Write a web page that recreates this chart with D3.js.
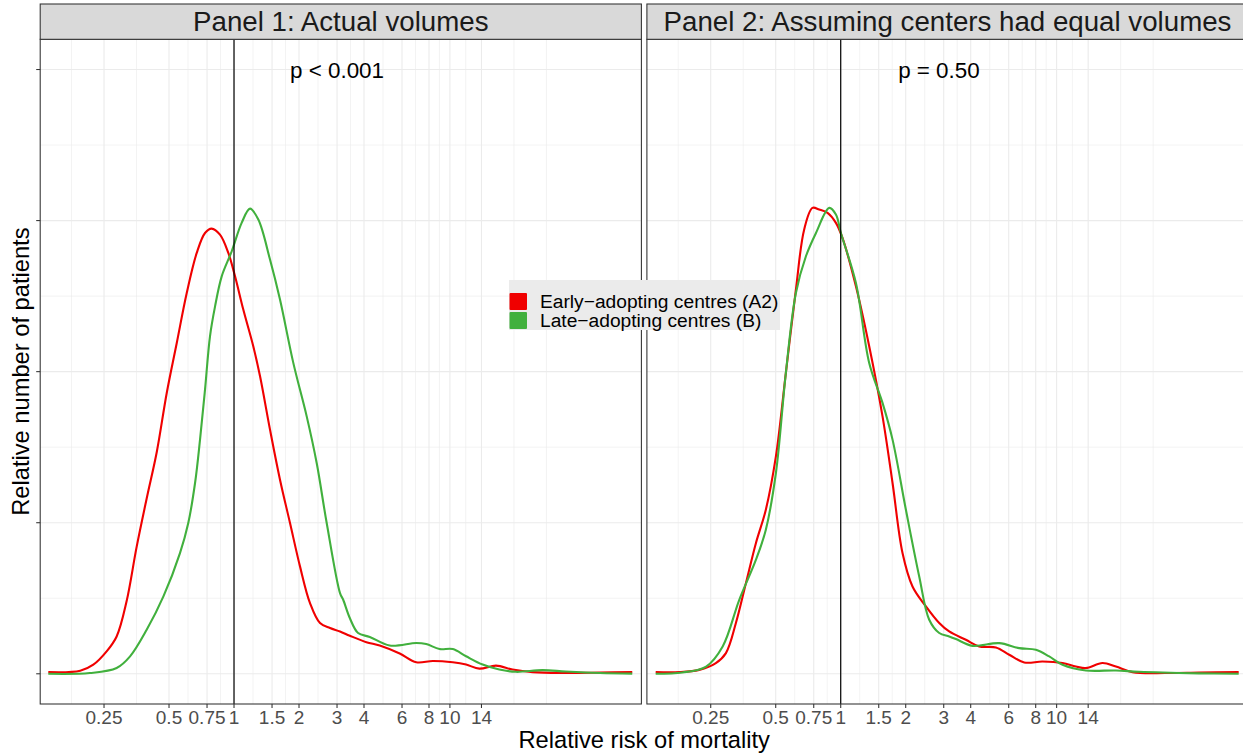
<!DOCTYPE html>
<html>
<head>
<meta charset="utf-8">
<script src="https://cdn.jsdelivr.net/npm/d3@7"></script>
<style>
  html, body { margin: 0; padding: 0; background: #fff; }
  svg { display: block; font-family: "Liberation Sans", Arial, Helvetica, sans-serif; }
</style>
</head>
<body>
<svg id="chart" width="1243" height="754"></svg>
<script>
// ---------------- DATA ----------------
const panelTitles = ["Panel 1: Actual volumes", "Panel 2: Assuming centers had equal volumes"];
const seriesNames = ["Early\u2212adopting centres (A2)", "Late\u2212adopting centres (B)"];
const seriesColors = ["#F00000", "#41B03D"];

const xBreaks = [0.25, 0.5, 0.75, 1, 1.5, 2, 3, 4, 6, 8, 10, 14];
const xLabels = ["0.25", "0.5", "0.75", "1", "1.5", "2", "3", "4", "6", "8", "10", "14"];
const yBreaks = [0, 1, 2, 3, 4];

const pLabels = ["p < 0.001", "p = 0.50"];
const pX = [3, 2.85];
const pY = [4, 4];

// Panel 1, early-adopting (A2)
const p1EarlyX = [0.138,0.194,0.223,0.257,0.286,0.318,0.354,0.394,0.439,0.488,0.543,0.604,0.672,0.734,0.788,0.861,0.941,1.011,1.104,1.228,1.32,1.468,1.633,1.817,2.021,2.249,2.502,2.784,3.097,3.438,4.104,4.73,5.853,6.987,8.34,10.31,11.88,13.69,16.35,19.51,24.15,34.4,49.5,69.9];
const p1EarlyY = [0.011,0.02,0.06,0.148,0.247,0.48,0.84,1.16,1.47,1.859,2.19,2.521,2.786,2.918,2.947,2.907,2.786,2.631,2.411,2.168,1.969,1.616,1.285,0.998,0.711,0.468,0.336,0.303,0.28,0.252,0.209,0.187,0.134,0.076,0.085,0.076,0.061,0.034,0.054,0.028,0.011,0.006,0.008,0.011];
// Panel 1, late-adopting (B)
const p1LateX = [0.138,0.215,0.286,0.33,0.394,0.471,0.562,0.614,0.66,0.696,0.734,0.774,0.817,0.877,0.976,1.085,1.186,1.296,1.468,1.633,1.882,2.171,2.415,2.687,3.097,3.204,3.438,3.756,4.255,5.261,6.987,7.765,8.95,10.31,11.88,14.18,16.93,20.23,26.83,34.4,49.5,69.9];
const p1LateY = [0,0.005,0.038,0.115,0.291,0.512,0.799,0.998,1.263,1.55,1.881,2.234,2.432,2.631,2.797,2.985,3.079,3.007,2.742,2.477,2.058,1.704,1.395,0.998,0.534,0.49,0.369,0.27,0.244,0.187,0.204,0.197,0.164,0.164,0.116,0.061,0.028,0.013,0.024,0.015,0.005,0.001];
// Panel 2, early-adopting (A2)
const p2EarlyX = [0.139,0.179,0.221,0.264,0.294,0.327,0.364,0.405,0.45,0.501,0.557,0.62,0.677,0.74,0.795,0.869,0.95,1.019,1.176,1.355,1.562,1.738,1.933,2.15,2.481,2.859,3.18,3.8,4.379,5.234,6.03,7.077,8.6,10.65,12.28,13.66,16.31,18.82,22.46,32.07,45.7,69.7];
const p2EarlyY = [0.011,0.011,0.026,0.071,0.137,0.336,0.601,0.866,1.086,1.439,1.991,2.543,2.94,3.084,3.073,3.051,2.985,2.885,2.565,2.168,1.704,1.263,0.799,0.578,0.446,0.336,0.28,0.225,0.181,0.174,0.126,0.075,0.081,0.071,0.048,0.038,0.071,0.048,0.011,0.005,0.008,0.011];
// Panel 2, late-adopting (B)
const p2LateX = [0.139,0.185,0.238,0.284,0.339,0.405,0.45,0.501,0.557,0.62,0.69,0.768,0.885,0.95,1.002,1.176,1.355,1.562,1.738,2.004,2.31,2.57,2.859,3.18,3.416,4.078,5.42,6.709,8.017,9.24,10.65,13.66,18.82,24.12,45.7,69.7];
const p2LateY = [0,0.009,0.048,0.181,0.49,0.755,0.954,1.329,1.991,2.521,2.764,2.918,3.084,3.04,2.918,2.587,2.058,1.793,1.55,1.086,0.644,0.358,0.27,0.247,0.23,0.185,0.203,0.17,0.159,0.115,0.06,0.022,0.022,0.013,0.003,0];

const panelSeries = [
  [[p1EarlyX, p1EarlyY], [p1LateX, p1LateY]],
  [[p2EarlyX, p2EarlyY], [p2LateX, p2LateY]]
];

// ---------------- LAYOUT ----------------
const svg = d3.select("#chart");
const panelLeft = [40.2, 646.9];
const panelW = 601.2;
const stripTop = 4, panelTop = 39.3, panelBottom = 704;

const x = d3.scaleLog().base(2).domain([Math.pow(2, -2.982), Math.pow(2, 6.268)]).range([0, panelW]);
const y = d3.scaleLinear().domain([-0.2, 4.2]).range([panelBottom, panelTop]);

// minor breaks (ggplot style: midpoints in transformed space, extended at ends)
const lb = xBreaks.map(v => Math.log2(v));
const bd = lb[1] - lb[0];
const ext = [lb[0] - bd, ...lb, lb[lb.length - 1] + bd];
let xMinor = [];
for (let i = 0; i < ext.length - 1; i++) {
  xMinor.push(ext[i]);
  xMinor.push((ext[i] + ext[i + 1]) / 2);
}
xMinor.push(ext[ext.length - 1]);
xMinor = xMinor.filter(v => !lb.some(b => Math.abs(b - v) < 1e-9)).map(v => Math.pow(2, v));
const yMinor = [0.5, 1.5, 2.5, 3.5];

const [xd0, xd1] = x.domain();
const line = d3.line().x(d => x(d[0])).y(d => y(d[1])).curve(d3.curveCatmullRom.alpha(0.5));

panelTitles.forEach((title, pi) => {
  const g = svg.append("g").attr("transform", `translate(${panelLeft[pi]},0)`);

  g.append("rect").attr("x", 0).attr("y", panelTop).attr("width", panelW).attr("height", panelBottom - panelTop).attr("fill", "#fff");

  g.selectAll(".xminor").data(xMinor.filter(v => v > xd0 && v < xd1)).enter().append("line")
    .attr("x1", d => x(d)).attr("x2", d => x(d)).attr("y1", panelTop).attr("y2", panelBottom)
    .attr("stroke", "#EBEBEB").attr("stroke-width", 0.6);
  g.selectAll(".yminor").data(yMinor).enter().append("line")
    .attr("x1", 0).attr("x2", panelW).attr("y1", d => y(d)).attr("y2", d => y(d))
    .attr("stroke", "#EBEBEB").attr("stroke-width", 0.6);
  g.selectAll(".xmajor").data(xBreaks).enter().append("line")
    .attr("x1", d => x(d)).attr("x2", d => x(d)).attr("y1", panelTop).attr("y2", panelBottom)
    .attr("stroke", "#EBEBEB").attr("stroke-width", 1.1);
  g.selectAll(".ymajor").data(yBreaks).enter().append("line")
    .attr("x1", 0).attr("x2", panelW).attr("y1", d => y(d)).attr("y2", d => y(d))
    .attr("stroke", "#EBEBEB").attr("stroke-width", 1.1);

  panelSeries[pi].forEach((s, si) => {
    const pts = s[0].map((v, i) => [v, s[1][i]]);
    g.append("path").datum(pts).attr("d", line)
      .attr("fill", "none").attr("stroke", seriesColors[si]).attr("stroke-width", 2.1)
      .attr("stroke-linejoin", "round");
  });

  g.append("line").attr("x1", x(1)).attr("x2", x(1)).attr("y1", panelTop).attr("y2", panelBottom)
    .attr("stroke", "#000").attr("stroke-width", 1.2);

  g.append("text").attr("x", x(pX[pi])).attr("y", y(pY[pi]) + 8)
    .attr("text-anchor", "middle").attr("font-size", 22.4).attr("fill", "#000").text(pLabels[pi]);

  g.append("rect").attr("x", 0).attr("y", panelTop).attr("width", panelW).attr("height", panelBottom - panelTop)
    .attr("fill", "none").attr("stroke", "#333").attr("stroke-width", 1.07);

  g.append("rect").attr("x", 0).attr("y", stripTop).attr("width", panelW).attr("height", panelTop - stripTop)
    .attr("fill", "#D9D9D9").attr("stroke", "#333").attr("stroke-width", 1.07);
  g.append("text").attr("x", panelW / 2).attr("y", (stripTop + panelTop) / 2 + 9.6)
    .attr("text-anchor", "middle").attr("font-size", 27.7).attr("fill", "#1A1A1A").text(title);

  const xa = g.append("g");
  xa.selectAll("line").data(xBreaks).enter().append("line")
    .attr("x1", d => x(d)).attr("x2", d => x(d)).attr("y1", panelBottom).attr("y2", panelBottom + 4)
    .attr("stroke", "#333").attr("stroke-width", 1.07);
  xa.selectAll("text").data(xBreaks).enter().append("text")
    .attr("x", d => x(d)).attr("y", 724).attr("text-anchor", "middle")
    .attr("font-size", 19).attr("fill", "#4D4D4D").text((d, i) => xLabels[i]);

  if (pi === 0) {
    g.selectAll(".ytick").data(yBreaks).enter().append("line")
      .attr("x1", -4).attr("x2", 0).attr("y1", d => y(d)).attr("y2", d => y(d))
      .attr("stroke", "#333").attr("stroke-width", 1.07);
  }
});

svg.append("text").attr("x", (panelLeft[0] + panelLeft[1] + panelW) / 2).attr("y", 748)
  .attr("text-anchor", "middle").attr("font-size", 23.7).attr("fill", "#000").text("Relative risk of mortality");
svg.append("text").attr("transform", `translate(29,${(panelTop + panelBottom) / 2}) rotate(-90)`)
  .attr("text-anchor", "middle").attr("font-size", 23.7).attr("fill", "#000").text("Relative number of patients");

const lg = svg.append("g").attr("transform", "translate(509,280)");
lg.append("rect").attr("x", 0).attr("y", 0).attr("width", 271).attr("height", 50).attr("fill", "#EBEBEB");
seriesNames.forEach((name, i) => {
  lg.append("rect").attr("x", 0.5).attr("y", 13 + i * 19).attr("width", 17.5).attr("height", 17)
    .attr("fill", seriesColors[i]).attr("rx", 1);
  lg.append("text").attr("x", 31).attr("y", 13 + i * 19 + 8.5 + 6.8)
    .attr("font-size", 19.2).attr("fill", "#000").text(name);
});
</script>
</body>
</html>
